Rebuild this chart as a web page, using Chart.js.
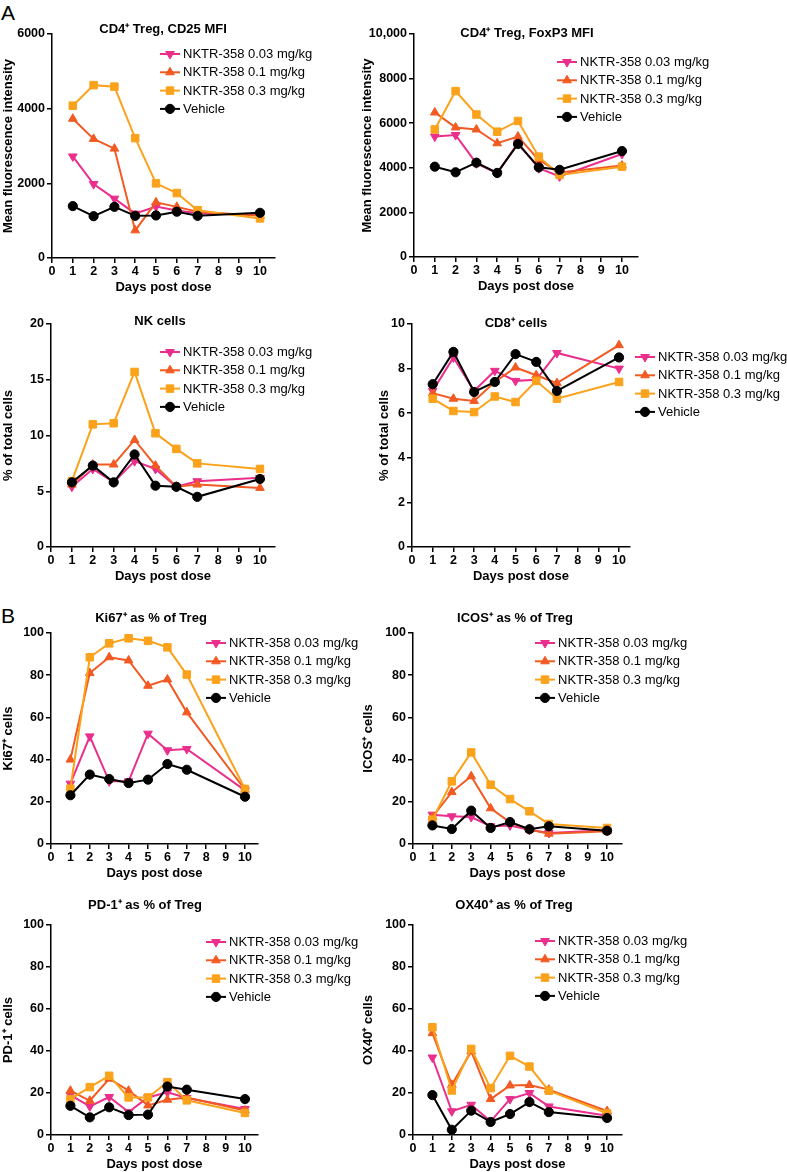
<!DOCTYPE html>
<html>
<head>
<meta charset="utf-8">
<script src="https://cdn.jsdelivr.net/npm/chart.js@4.4.1/dist/chart.umd.min.js"></script>
<style>
  body { margin: 0; background: #fff; width: 787px; height: 1172px; position: relative; overflow: hidden;
         font-family: 'Liberation Sans', Arial, Helvetica, sans-serif; }
  canvas { position: absolute; }
  .tag { position: absolute; font-size: 21px; line-height: 21px; color: #000; }
</style>
</head>
<body>
<div class="tag" style="left:1px;top:2px">A</div>
<div class="tag" style="left:1px;top:605px">B</div>
<script>
// ---- data ----
const days = [1, 2, 3, 4, 5, 6, 7, 10];
const dayTicks = [0, 1, 2, 3, 4, 5, 6, 7, 8, 9, 10];
const dayTickLabels = ['0', '1', '2', '3', '4', '5', '6', '7', '8', '9', '10'];
const groupNames = ['NKTR-358 0.03 mg/kg', 'NKTR-358 0.1 mg/kg', 'NKTR-358 0.3 mg/kg', 'Vehicle'];

// CD4+ Treg, CD25 MFI
const cd25Low  = [2720, 1980, 1590, 1190, 1380, 1270, 1200, 1160];
const cd25Mid  = [3730, 3190, 2930, 740, 1490, 1370, 1240, 1130];
const cd25High = [4080, 4630, 4590, 3210, 2000, 1740, 1280, 1060];
const cd25Veh  = [1390, 1120, 1370, 1130, 1140, 1240, 1130, 1210];
const cd25Ticks = [0, 2000, 4000, 6000];
const cd25TickLabels = ['0', '2000', '4000', '6000'];

// CD4+ Treg, FoxP3 MFI
const foxp3Low  = [5400, 5470, 4200, 3760, 5100, 3980, 3610, 4620];
const foxp3Mid  = [6480, 5810, 5720, 5100, 5400, 4350, 3790, 4100];
const foxp3High = [5720, 7440, 6390, 5620, 6100, 4500, 3680, 4050];
const foxp3Veh  = [4050, 3800, 4230, 3770, 5070, 4020, 3910, 4750];
const foxp3Ticks = [0, 2000, 4000, 6000, 8000, 10000];
const foxp3TickLabels = ['0', '2000', '4000', '6000', '8000', '10,000'];

// NK cells
const nkLow  = [5.4, 7.0, 5.8, 7.7, 7.0, 5.4, 5.9, 6.2];
const nkMid  = [5.6, 7.4, 7.4, 9.6, 7.3, 5.4, 5.6, 5.3];
const nkHigh = [5.9, 11.0, 11.1, 15.7, 10.2, 8.8, 7.5, 7.0];
const nkVeh  = [5.8, 7.3, 5.8, 8.3, 5.5, 5.4, 4.5, 6.1];
const nkTicks = [0, 5, 10, 15, 20];
const nkTickLabels = ['0', '5', '10', '15', '20'];

// CD8+ cells
const cd8Low  = [7.0, 8.5, 7.0, 7.9, 7.45, 7.5, 8.7, 8.0];
const cd8Mid  = [6.9, 6.65, 6.55, 7.4, 8.05, 7.7, 7.35, 9.05];
const cd8High = [6.65, 6.1, 6.05, 6.75, 6.5, 7.45, 6.65, 7.4];
const cd8Veh  = [7.3, 8.75, 6.95, 7.4, 8.65, 8.3, 7.0, 8.5];
const cd8Ticks = [0, 2, 4, 6, 8, 10];
const cd8TickLabels = ['0', '2', '4', '6', '8', '10'];

// Ki67+ as % of Treg
const ki67Low  = [28.6, 51.0, 29.7, 29.7, 52.3, 44.4, 45.0, 25.4];
const ki67Mid  = [40.0, 81.0, 88.5, 87.0, 75.0, 78.0, 62.4, 25.7];
const ki67High = [26.2, 88.5, 95.1, 97.5, 96.3, 93.2, 80.3, 26.1];
const ki67Veh  = [23.1, 32.9, 30.8, 28.9, 30.5, 37.9, 35.2, 22.4];

// ICOS+ as % of Treg
const icosLow  = [13.9, 13.1, 12.8, 8.4, 8.8, 6.8, 5.2, 6.5];
const icosMid  = [12.8, 24.6, 32.1, 16.9, 10.3, 6.8, 4.9, 6.0];
const icosHigh = [11.5, 29.7, 43.4, 28.1, 21.3, 15.5, 9.5, 7.6];
const icosVeh  = [8.8, 7.1, 15.8, 7.6, 10.4, 7.0, 8.4, 6.3];

// PD-1+ as % of Treg
const pd1Low  = [19.0, 13.6, 18.1, 10.9, 17.9, 20.3, 17.6, 12.4];
const pd1Mid  = [21.1, 16.3, 26.8, 21.1, 14.1, 16.8, 17.9, 11.7];
const pd1High = [17.1, 22.8, 28.2, 17.9, 17.9, 25.2, 16.5, 10.5];
const pd1Veh  = [13.9, 8.4, 13.2, 9.5, 9.7, 23.1, 21.6, 17.1];

// OX40+ as % of Treg
const ox40Low  = [36.9, 11.3, 14.4, 6.5, 17.1, 20.0, 13.6, 9.2];
const ox40Mid  = [48.5, 23.9, 39.8, 17.1, 23.6, 23.8, 21.6, 11.4];
const ox40High = [51.3, 21.2, 41.0, 22.3, 37.7, 32.6, 21.1, 10.3];
const ox40Veh  = [19.0, 2.5, 11.6, 6.2, 10.0, 15.7, 10.9, 8.1];

const pctTicks = [0, 20, 40, 60, 80, 100];
const pctTickLabels = ['0', '20', '40', '60', '80', '100'];

// ---- styles ----
const FONT = "'Liberation Sans', Arial, Helvetica, sans-serif";
Chart.defaults.font.family = FONT;
Chart.defaults.color = '#000';

const groupStyles = [
  { color: '#EA2E8C', pointStyle: 'triangle', rotation: 180, radius: 5, order: 3 },
  { color: '#F15A22', pointStyle: 'triangle', rotation: 0, radius: 5, order: 2 },
  { color: '#FAA21B', pointStyle: 'rect', rotation: 0, radius: 5.3, order: 1 },
  { color: '#000000', pointStyle: 'circle', rotation: 0, radius: 4.6, order: 0 }
];
const X_AXIS_H = 37;

function drawMarker(ctx, style, x, y) {
  const r = style.radius;
  ctx.beginPath();
  if (style.pointStyle === 'circle') {
    ctx.arc(x, y, r, 0, Math.PI * 2);
  } else if (style.pointStyle === 'rect') {
    const s = r * Math.SQRT1_2;
    ctx.rect(x - s, y - s, 2 * s, 2 * s);
  } else {
    let rad = style.rotation * Math.PI / 180;
    for (let k = 0; k < 3; k++) {
      const px = x + Math.sin(rad) * r, py = y - Math.cos(rad) * r;
      if (k === 0) ctx.moveTo(px, py); else ctx.lineTo(px, py);
      rad += Math.PI * 2 / 3;
    }
    ctx.closePath();
  }
  ctx.fill();
  ctx.stroke();
}

// title + legend drawn at the positions used in the figure
const panelDecor = {
  id: 'panelDecor',
  afterDraw(chart, args, opts) {
    const ctx = chart.ctx;
    ctx.save();
    ctx.fillStyle = '#000';
    ctx.font = 'bold 13px ' + FONT;
    ctx.textAlign = 'center';
    ctx.textBaseline = 'middle';
    ctx.fillText(opts.title, opts.titleX, opts.titleY);

    ctx.font = '13px ' + FONT;
    ctx.textAlign = 'left';
    groupNames.forEach((name, i) => {
      const st = groupStyles[i];
      const y = opts.legendY + i * 18.3;
      ctx.strokeStyle = st.color;
      ctx.fillStyle = st.color;
      ctx.lineWidth = 2;
      ctx.beginPath();
      ctx.moveTo(opts.legendX, y);
      ctx.lineTo(opts.legendX + 20, y);
      ctx.stroke();
      ctx.lineWidth = 1;
      drawMarker(ctx, st, opts.legendX + 10, y);
      ctx.fillStyle = '#000';
      ctx.fillText(name, opts.legendX + 23, y + 0.5);
    });
    ctx.restore();
  }
};

function makePanel(cfg) {
  const [bx, by, bw, bh] = cfg.box;
  const [L, T, R, B] = cfg.area;
  const canvas = document.createElement('canvas');
  canvas.width = bw;
  canvas.height = bh;
  canvas.style.left = bx + 'px';
  canvas.style.top = by + 'px';
  document.body.appendChild(canvas);

  new Chart(canvas.getContext('2d'), {
    type: 'line',
    data: {
      datasets: cfg.series.map((vals, i) => ({
        label: groupNames[i],
        data: days.map((d, j) => ({ x: d, y: vals[j] })),
        borderColor: groupStyles[i].color,
        backgroundColor: groupStyles[i].color,
        pointBackgroundColor: groupStyles[i].color,
        pointBorderColor: groupStyles[i].color,
        pointStyle: groupStyles[i].pointStyle,
        rotation: groupStyles[i].rotation,
        pointRadius: groupStyles[i].radius,
        pointBorderWidth: 1,
        borderWidth: 2,
        tension: 0,
        fill: false,
        clip: false,
        order: groupStyles[i].order
      }))
    },
    options: {
      responsive: false,
      animation: false,
      events: [],
      layout: {
        padding: { left: 0, top: T - by, right: bx + bw - R, bottom: by + bh - B - X_AXIS_H }
      },
      plugins: {
        legend: { display: false },
        tooltip: { enabled: false },
        title: { display: false },
        panelDecor: {
          title: cfg.title,
          titleX: cfg.titlePos[0] - bx,
          titleY: cfg.titlePos[1] - by,
          legendX: cfg.legendPos[0] - bx,
          legendY: cfg.legendPos[1] - by
        }
      },
      scales: {
        x: {
          type: 'linear',
          min: 0,
          max: cfg.xMax,
          afterBuildTicks: s => { s.ticks = dayTicks.map(v => ({ value: v })); },
          afterFit: s => { s.height = X_AXIS_H; },
          ticks: {
            autoSkip: false, maxRotation: 0, padding: 1,
            font: { size: 12.5, weight: 'bold' }, color: '#000',
            callback: (v, i) => dayTickLabels[i]
          },
          grid: { drawOnChartArea: false, drawTicks: true, tickLength: 5, color: '#000', lineWidth: 1.5 },
          border: { color: '#000', width: 1.5 },
          title: { display: true, text: 'Days post dose', font: { size: 13, weight: 'bold' }, color: '#000',
                   padding: { top: 0, bottom: 0 } }
        },
        y: {
          type: 'linear',
          min: 0,
          max: cfg.yTicks[cfg.yTicks.length - 1],
          afterBuildTicks: s => { s.ticks = cfg.yTicks.map(v => ({ value: v })); },
          afterFit: s => { s.width = L - bx; },
          ticks: {
            autoSkip: false, padding: 2,
            font: { size: 12.5, weight: 'bold' }, color: '#000',
            callback: (v, i) => cfg.yLabels[i]
          },
          grid: { drawOnChartArea: false, drawTicks: true, tickLength: 5, color: '#000', lineWidth: 1.5 },
          border: { color: '#000', width: 1.5 },
          title: { display: true, text: cfg.yTitle, font: { size: 13, weight: 'bold' }, color: '#000',
                   padding: { top: Math.max(0, cfg.yTitleX - bx - 7.8), bottom: 0 } }
        }
      }
    },
    plugins: [panelDecor]
  });
}

makePanel({
  box: [0, 0, 370, 295], area: [52, 34, 275, 258], xMax: 10.72,
  title: 'CD4\u207A Treg, CD25 MFI', titlePos: [163, 29], legendPos: [160, 54],
  yTitle: 'Mean fluorescence intensity', yTitleX: 8,
  yTicks: cd25Ticks, yLabels: cd25TickLabels,
  series: [cd25Low, cd25Mid, cd25High, cd25Veh]
});
makePanel({
  box: [355, 0, 432, 295], area: [414, 34, 638, 257], xMax: 10.77,
  title: 'CD4\u207A Treg, FoxP3 MFI', titlePos: [527, 33], legendPos: [557, 62],
  yTitle: 'Mean fluorescence intensity', yTitleX: 367,
  yTicks: foxp3Ticks, yLabels: foxp3TickLabels,
  series: [foxp3Low, foxp3Mid, foxp3High, foxp3Veh]
});
makePanel({
  box: [0, 300, 370, 284], area: [51, 324, 275, 547], xMax: 10.72,
  title: 'NK cells', titlePos: [160, 321], legendPos: [160, 352],
  yTitle: '% of total cells', yTitleX: 8,
  yTicks: nkTicks, yLabels: nkTickLabels,
  series: [nkLow, nkMid, nkHigh, nkVeh]
});
makePanel({
  box: [355, 300, 432, 284], area: [412, 324, 630, 547], xMax: 10.53,
  title: 'CD8\u207A cells', titlePos: [516, 323], legendPos: [635, 357],
  yTitle: '% of total cells', yTitleX: 384,
  yTicks: cd8Ticks, yLabels: cd8TickLabels,
  series: [cd8Low, cd8Mid, cd8High, cd8Veh]
});
makePanel({
  box: [0, 595, 370, 286], area: [51, 633, 258, 844], xMax: 10.67,
  title: 'Ki67\u207A as % of Treg', titlePos: [151, 618], legendPos: [206, 643],
  yTitle: 'Ki67\u207A cells', yTitleX: 8,
  yTicks: pctTicks, yLabels: pctTickLabels,
  series: [ki67Low, ki67Mid, ki67High, ki67Veh]
});
makePanel({
  box: [355, 595, 432, 286], area: [413, 633, 622, 844], xMax: 10.77,
  title: 'ICOS\u207A as % of Treg', titlePos: [515, 618], legendPos: [535, 643],
  yTitle: 'ICOS\u207A cells', yTitleX: 368,
  yTicks: pctTicks, yLabels: pctTickLabels,
  series: [icosLow, icosMid, icosHigh, icosVeh]
});
makePanel({
  box: [0, 885, 370, 287], area: [51, 925, 258, 1135], xMax: 10.67,
  title: 'PD-1\u207A as % of Treg', titlePos: [145, 905], legendPos: [206, 942],
  yTitle: 'PD-1\u207A cells', yTitleX: 8,
  yTicks: pctTicks, yLabels: pctTickLabels,
  series: [pd1Low, pd1Mid, pd1High, pd1Veh]
});
makePanel({
  box: [355, 885, 432, 287], area: [413, 925, 622, 1135], xMax: 10.77,
  title: 'OX40\u207A as % of Treg', titlePos: [514, 905], legendPos: [535, 941],
  yTitle: 'OX40\u207A cells', yTitleX: 368,
  yTicks: pctTicks, yLabels: pctTickLabels,
  series: [ox40Low, ox40Mid, ox40High, ox40Veh]
});
</script>
</body>
</html>
